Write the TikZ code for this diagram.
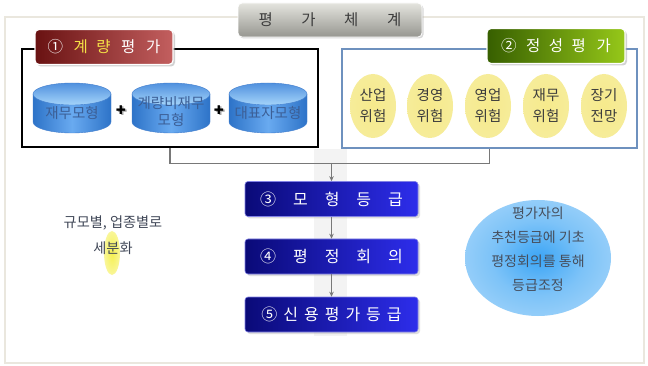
\documentclass[tikz,border=0pt]{standalone}
\usepackage{fontspec}
\setmainfont{Noto Sans CJK KR}
\newfontfamily\djv{DejaVu Sans}
\usetikzlibrary{shadows,shapes.geometric,arrows.meta,calc}
\definecolor{framec}{RGB}{234,231,222}
\definecolor{bandc}{RGB}{243,243,243}
\definecolor{panelblue}{RGB}{110,145,190}
\definecolor{titleT}{RGB}{228,228,222}
\definecolor{titleB}{RGB}{150,150,144}
\definecolor{titletext}{RGB}{60,60,60}
\definecolor{redL}{RGB}{105,18,18}
\definecolor{redR}{RGB}{195,95,95}
\definecolor{tabyellow}{RGB}{245,225,70}
\definecolor{greenL}{RGB}{55,95,0}
\definecolor{greenR}{RGB}{150,200,25}
\definecolor{blueL}{RGB}{10,10,120}
\definecolor{blueR}{RGB}{45,45,235}
\definecolor{blueEdge}{RGB}{130,130,230}
\definecolor{cylL}{RGB}{45,115,200}
\definecolor{cylM}{RGB}{105,170,240}
\definecolor{cylTopT}{RGB}{80,145,222}
\definecolor{cylTopB}{RGB}{165,212,250}
\definecolor{cylEdge}{RGB}{65,125,205}
\definecolor{cyltext}{RGB}{60,95,150}
\definecolor{risktext}{RGB}{60,60,60}
\definecolor{lefttext}{RGB}{65,72,88}
\definecolor{notetext}{RGB}{70,78,92}
\definecolor{arrowc}{RGB}{120,120,120}
\definecolor{yelA}{RGB}{246,234,140}
\definecolor{yelB}{RGB}{246,237,160}
\definecolor{yelC}{RGB}{242,238,205}
\definecolor{yelD}{RGB}{250,248,235}
\definecolor{cirA}{RGB}{60,165,245}
\definecolor{cirB}{RGB}{125,195,248}
\definecolor{cirC}{RGB}{185,222,250}
\definecolor{cirD}{RGB}{218,238,252}
\definecolor{glowA}{RGB}{245,240,80}
\pgfdeclareradialshading{yellowsh}{\pgfpoint{0bp}{0bp}}{color(0bp)=(yelA); color(38bp)=(yelB); color(46bp)=(yelC); color(50bp)=(yelD); color(72bp)=(white)}
\pgfdeclareradialshading{notesh}{\pgfpoint{0bp}{0bp}}{color(0bp)=(cirA); color(16bp)=(cirB); color(40bp)=(cirC); color(50bp)=(cirD); color(72bp)=(white)}
\pgfdeclareradialshading{glowsh}{\pgfpoint{0bp}{0bp}}{color(0bp)=(glowA); color(30bp)=(glowA!50!white); color(50bp)=(white); color(72bp)=(white)}
\tikzset{
  titlebox/.style={rectangle, rounded corners=4pt, minimum width=184pt, minimum height=34pt,
    top color=titleT, bottom color=titleB, draw=white, line width=0.8pt, text=titletext,
    font=\fontsize{15.5}{18}\selectfont,
    drop shadow={shadow xshift=1.5pt, shadow yshift=-1.5pt, fill=black!30}},
  tabbox/.style={rectangle, rounded corners=4pt, minimum width=138pt, minimum height=35pt,
    draw=white, line width=1.2pt, font=\fontsize{15.5}{18}\selectfont, text=white,
    drop shadow={shadow xshift=2pt, shadow yshift=-2pt, fill=black!35}},
  stepbox/.style={rectangle, rounded corners=3pt, minimum width=173pt, minimum height=35pt,
    left color=blueL, right color=blueR, draw=blueEdge, line width=0.6pt, text=white,
    font=\fontsize{16}{18}\selectfont,
    drop shadow={shadow xshift=2pt, shadow yshift=-2pt, fill=black!25}},
  riskell/.style={ellipse, minimum width=46pt, minimum height=64pt, inner sep=0pt,
    shading=yellowsh, align=center, text=risktext, font=\fontsize{14.5}{21}\selectfont},
  cyltext/.style={align=center, text=cyltext, font=\fontsize{14.5}{17}\selectfont, inner sep=0pt},
  link/.style={draw=arrowc, line width=1.2pt},
  arrowlink/.style={link, -{Stealth[length=5pt,width=4.5pt]}},
  plussign/.style={inner sep=0pt, font=\djv\fontsize{12}{12}\selectfont}
}
\newcommand\dbcyl[4]{%
  \shadedraw[left color=cylL, right color=cylL, middle color=cylM, draw=cylEdge, line width=0.4pt]
    (#2-39,94) -- (#2-39,122) arc[start angle=180,end angle=0,x radius=39,y radius=11] -- (#2+39,94) -- cycle;
  \shadedraw[top color=cylTopT, bottom color=cylTopB, draw=cylEdge, line width=0.4pt]
    (#2,94) ellipse [x radius=39, y radius=11];
  \node[cyltext] (#1) at (#2,#3) {#4};
}
\begin{document}
\begin{tikzpicture}[x=1pt,y=-1pt]
\useasboundingbox (0,0) rectangle (648,366);
\fill[white] (0,0) rectangle (648,366);
\draw[framec, line width=2pt] (5,17) rectangle (644,363);
\fill[bandc] (314,149) rectangle (347,336);

% panels
\node[draw=black, line width=1.6pt, minimum width=296pt, minimum height=98pt, inner sep=0pt] (qpanel) at (170,98) {};
\node[draw=panelblue, line width=1.1pt, minimum width=295pt, minimum height=99pt, inner sep=0pt] (spanel) at (489.5,98.5) {};

% title and tabs
\node[titlebox] (title) at (330,20) {평\hspace{28.5pt}가\hspace{28.5pt}체\hspace{28.5pt}계};
\node[tabbox, left color=redL, right color=redR] (qtab) at (104,47)
  {①\hspace{10.5pt}\textcolor{tabyellow}{계\hspace{8.5pt}량}\hspace{10.5pt}평\hspace{10.5pt}가};
\node[tabbox, left color=greenL, right color=greenR] (stab) at (556,46)
  {②\hspace{9.5pt}정\hspace{8.5pt}성\hspace{8.5pt}평\hspace{10.5pt}가};

% cylinders
\dbcyl{c1}{72}{113}{재무모형}
\dbcyl{c2}{171}{111.5}{계량비재무\\모형}
\dbcyl{c3}{268}{113}{대표자모형}
\node[plussign, text=black!35] (p1s) at (122.5,111.5) {✚};
\node[plussign] (p1) at (121,110) {✚};
\node[plussign, text=black!35] (p2s) at (220.5,111.5) {✚};
\node[plussign] (p2) at (219,110) {✚};

% risk ellipses
\node[riskell] (r1) at (373,106) {산업\\위험};
\node[riskell] (r2) at (430,106) {경영\\위험};
\node[riskell] (r3) at (488,106) {영업\\위험};
\node[riskell] (r4) at (546,106) {재무\\위험};
\node[riskell] (r5) at (604,106) {장기\\전망};

% step boxes
\node[stepbox] (b3) at (331.5,199) {③\hspace{17pt}모\hspace{17pt}형\hspace{17pt}등\hspace{17pt}급};
\node[stepbox] (b4) at (331.5,256.5) {④\hspace{17pt}평\hspace{17pt}정\hspace{17pt}회\hspace{17pt}의};
\node[stepbox] (b5) at (331.5,314.5) {⑤\hspace{6pt}신\hspace{6pt}용\hspace{6pt}평\hspace{6pt}가\hspace{6pt}등\hspace{6pt}급};

% connectors
\coordinate (j) at (331.5,163);
\draw[link] (qpanel.south) -- ++(0,16) -| (spanel.south);
\draw[arrowlink] (j) -- (b3.north);
\draw[arrowlink] (b3.south) -- (b4.north);
\draw[arrowlink] (b4.south) -- (b5.north);

% left note
\shade[shading=glowsh] (112,253) ellipse [x radius=8, y radius=22];
\node[align=center, text=lefttext, font=\fontsize{14.2}{26}\selectfont] (seg) at (113,235) {규모별, 업종별로\\세분화};

% right note
\node[ellipse, minimum width=146pt, minimum height=116pt, shading=notesh, inner sep=0pt] (noteell) at (538,258) {};
\node[align=center, text=notetext, font=\fontsize{14}{24}\selectfont] (notetxt) at (538,249) {평가자의\\추천등급에 기초\\평정회의를 통해\\등급조정};
\end{tikzpicture}
\end{document}
